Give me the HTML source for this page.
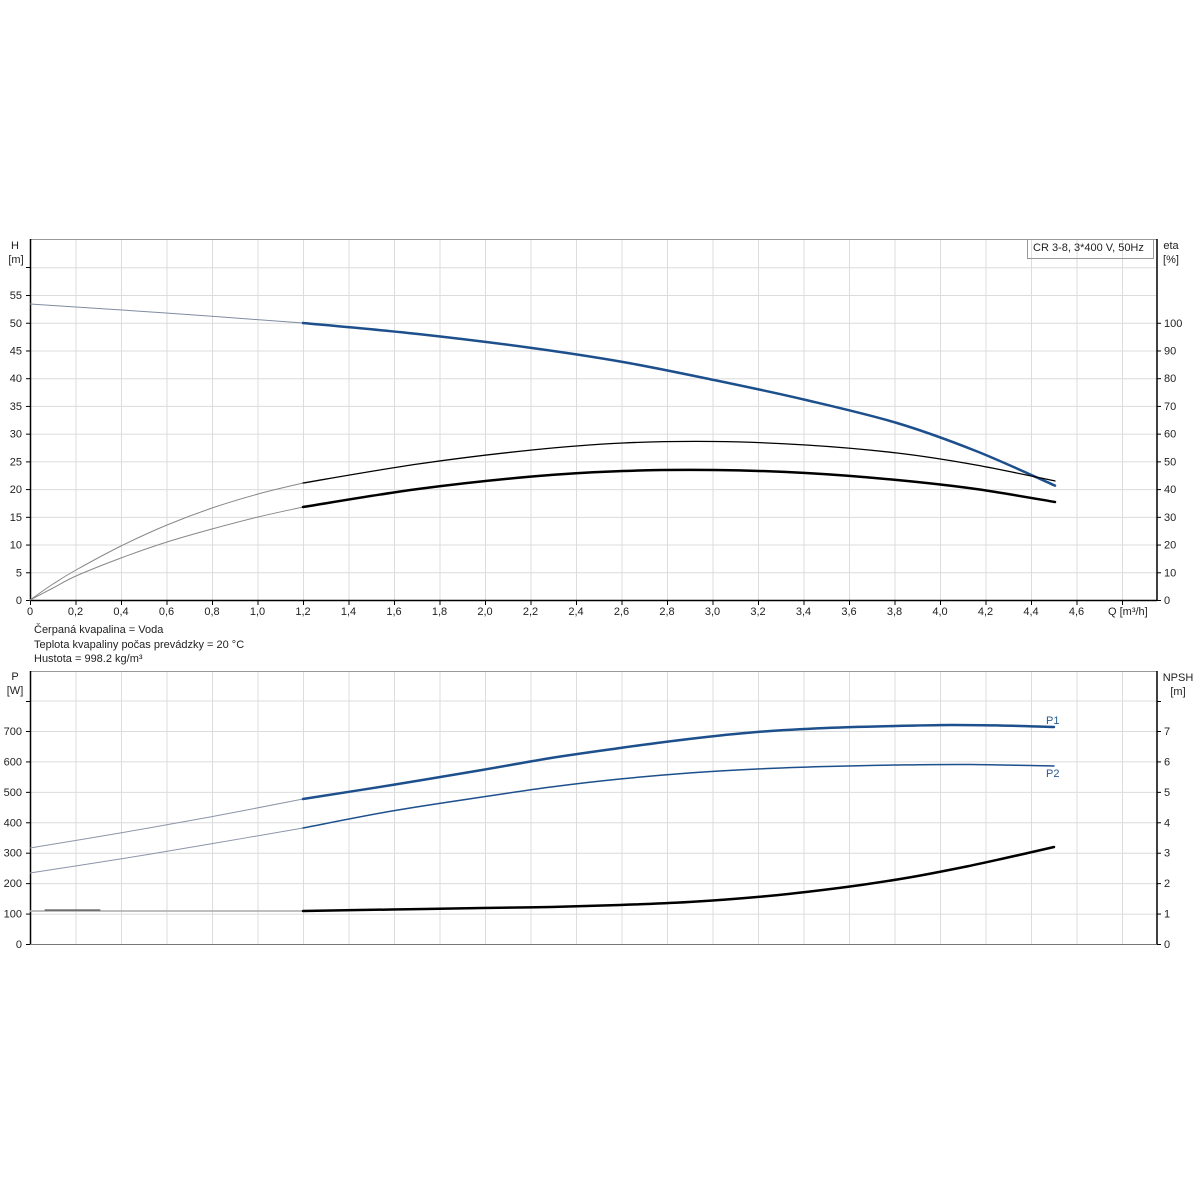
<!DOCTYPE html>
<html><head><meta charset="utf-8"><style>
html,body{margin:0;padding:0;background:#fff;}
svg{display:block;font-family:"Liberation Sans",Arial,sans-serif;font-size:11px;}
</style></head><body>
<svg id="s" width="1200" height="1200" viewBox="0 0 1200 1200" xmlns="http://www.w3.org/2000/svg">
<rect width="1200" height="1200" fill="#fff"/>
<g id="grid" stroke="#dcdcdc" stroke-width="1"></g>
<g id="axes"></g>
<g id="labels" fill="#222"></g>
<g id="curves" fill="none" stroke-linecap="round"></g>
<text x="1033" y="251" fill="#222">CR 3-8, 3*400 V, 50Hz</text>
<rect x="1027.5" y="239.5" width="126" height="19" fill="none" stroke="#999"/>
<text x="34" y="633" fill="#222">Čerpaná kvapalina = Voda</text>
<text x="34" y="648" fill="#222">Teplota kvapaliny počas prevádzky = 20 °C</text>
<text x="34" y="662" fill="#222">Hustota = 998.2 kg/m³</text>
<text x="15" y="249" text-anchor="middle" fill="#222">H</text>
<text x="16" y="263" text-anchor="middle" fill="#222">[m]</text>
<text x="1171" y="249" text-anchor="middle" fill="#222">eta</text>
<text x="1171" y="263" text-anchor="middle" fill="#222">[%]</text>
<text x="15" y="680" text-anchor="middle" fill="#222">P</text>
<text x="15" y="694" text-anchor="middle" fill="#222">[W]</text>
<text x="1178" y="681" text-anchor="middle" fill="#222">NPSH</text>
<text x="1178" y="695" text-anchor="middle" fill="#222">[m]</text>
<text x="1108" y="615" fill="#222">Q [m³/h]</text>
<text x="1046" y="724" fill="#2a5a90">P1</text>
<text x="1046" y="777" fill="#2a5a90">P2</text>
</svg>
<script>
var NS="http://www.w3.org/2000/svg";
function el(p,t,a,txt){var e=document.createElementNS(NS,t);for(var k in a)e.setAttribute(k,a[k]);if(txt!==undefined)e.textContent=txt;document.getElementById(p).appendChild(e);return e;}
var X0=30,DX=45.5,XR=1157;
for(var i=1;i<=24;i++){var x=X0+i*DX+0.5;el('grid','line',{x1:x,y1:239,x2:x,y2:600});el('grid','line',{x1:x,y1:671,x2:x,y2:944});}
for(var h=5;h<=60;h+=5){var y=600-h*5.545+0.5;el('grid','line',{x1:X0,y1:y,x2:XR,y2:y});}
el('grid','line',{x1:X0,y1:239.5,x2:XR,y2:239.5,stroke:'#999'});
for(var p=100;p<=800;p+=100){var y=944-p*0.3043+0.5;el('grid','line',{x1:X0,y1:y,x2:XR,y2:y});}
el('grid','line',{x1:X0,y1:671.5,x2:XR,y2:671.5,stroke:'#999'});
el('axes','line',{x1:30.5,y1:239,x2:30.5,y2:601,stroke:'#000','stroke-width':1.5});
el('axes','line',{x1:1157,y1:239,x2:1157,y2:601,stroke:'#000','stroke-width':1.5});
el('axes','line',{x1:30,y1:600.5,x2:1157,y2:600.5,stroke:'#000','stroke-width':1.5});
el('axes','line',{x1:30.5,y1:671,x2:30.5,y2:945,stroke:'#000','stroke-width':1.5});
el('axes','line',{x1:1157,y1:671,x2:1157,y2:945,stroke:'#000','stroke-width':1.5});
el('axes','line',{x1:30,y1:944.5,x2:1157,y2:944.5,stroke:'#777','stroke-width':1});
for(var i=0;i<=24;i++){var x=X0+i*DX;el('axes','line',{x1:x+0.5,y1:600,x2:x+0.5,y2:605,stroke:'#000'});
 if(i<=23){var v=(i*0.2).toFixed(1).replace('.',',');if(i==0)v='0';el('labels','text',{x:x,y:615,'text-anchor':'middle'},v);}}
for(var h=0;h<=55;h+=5){var y=600-h*5.545;el('axes','line',{x1:26,y1:y+0.5,x2:30,y2:y+0.5,stroke:'#000'});el('labels','text',{x:22,y:y+4,'text-anchor':'end'},h);}
for(var e=0;e<=100;e+=10){var y=600-e*2.7725;el('axes','line',{x1:1157,y1:y+0.5,x2:1161,y2:y+0.5,stroke:'#000'});el('labels','text',{x:1164,y:y+4},e);}
for(var p=0;p<=700;p+=100){var y=944-p*0.3043;el('axes','line',{x1:26,y1:y+0.5,x2:30,y2:y+0.5,stroke:'#000'});el('labels','text',{x:22,y:y+4,'text-anchor':'end'},p);}
for(var n=0;n<=7;n++){var y=944-n*30.43;el('axes','line',{x1:1157,y1:y+0.5,x2:1161,y2:y+0.5,stroke:'#000'});el('labels','text',{x:1164,y:y+4},n);}
el('axes','line',{x1:1157,y1:701.5,x2:1161,y2:701.5,stroke:'#000'});
el('axes','line',{x1:26,y1:701.5,x2:30,y2:701.5,stroke:'#000'});
el('axes','line',{x1:26,y1:267.5,x2:30,y2:267.5,stroke:'#000'});
function cr(pts){var d='M'+pts[0][0]+','+pts[0][1];for(var i=0;i<pts.length-1;i++){var p0=pts[Math.max(0,i-1)],p1=pts[i],p2=pts[i+1],p3=pts[Math.min(pts.length-1,i+2)];
 var c1=[p1[0]+(p2[0]-p0[0])/6,p1[1]+(p2[1]-p0[1])/6],c2=[p2[0]-(p3[0]-p1[0])/6,p2[1]-(p3[1]-p1[1])/6];
 d+=' C'+c1[0].toFixed(1)+','+c1[1].toFixed(1)+' '+c2[0].toFixed(1)+','+c2[1].toFixed(1)+' '+p2[0]+','+p2[1];}return d;}
function path(pts,st,w){el('curves','path',{d:cr(pts),stroke:st,'stroke-width':w});}
path([[30,304],[166,313],[303,323]],'#7f8ca0',1);
path([[30,600],[53,584],[76,570],[121,546],[167,525],[212,508],[258,494],[303,483]],'#888',1);
path([[30,600],[53,588],[76,576],[121,558],[167,542],[212,529],[258,517],[303,507]],'#888',1);
path([[30,848],[120,833],[210,817],[303,799]],'#8c96a8',1);
path([[30,873],[120,859],[210,844],[303,828]],'#8c96a8',1);
path([[30,911],[303,911]],'#aaa',1.5);
path([[45,910],[100,910]],'#333',1);
path([[303,323],[418,334],[532,348],[623,362],[714,380],[806,400],[897,423],[976,451],[1055,485.6]],'#1d4f8c',2.5);
path([[303,483],[418,464],[532,450],[623,443],[714,441.5],[806,445],[897,453],[976,465],[1055,481]],'#000',1.3);
path([[303,507],[418,489],[532,476.5],[623,471],[714,470],[806,473],[897,480],[976,489],[1055,502]],'#000',2.5);
path([[303,799],[392,785],[482,770],[551,758],[620,748],[689,739],[757,732],[826,728],[895,726],[950,725],[1000,725.5],[1054,727]],'#1d4f8c',2.5);
path([[303,828],[392,811],[482,797],[551,787],[620,779],[689,773],[757,769],[826,766.5],[895,765],[970,764.5],[1054,766]],'#1d4f8c',1.5);
path([[303,911],[392,909.5],[482,908],[551,907],[620,905],[689,902],[757,897],[810,891.5],[861,885],[912,877],[964,867],[1010,857],[1054,847]],'#000',2.5);
</script>
</body></html>
